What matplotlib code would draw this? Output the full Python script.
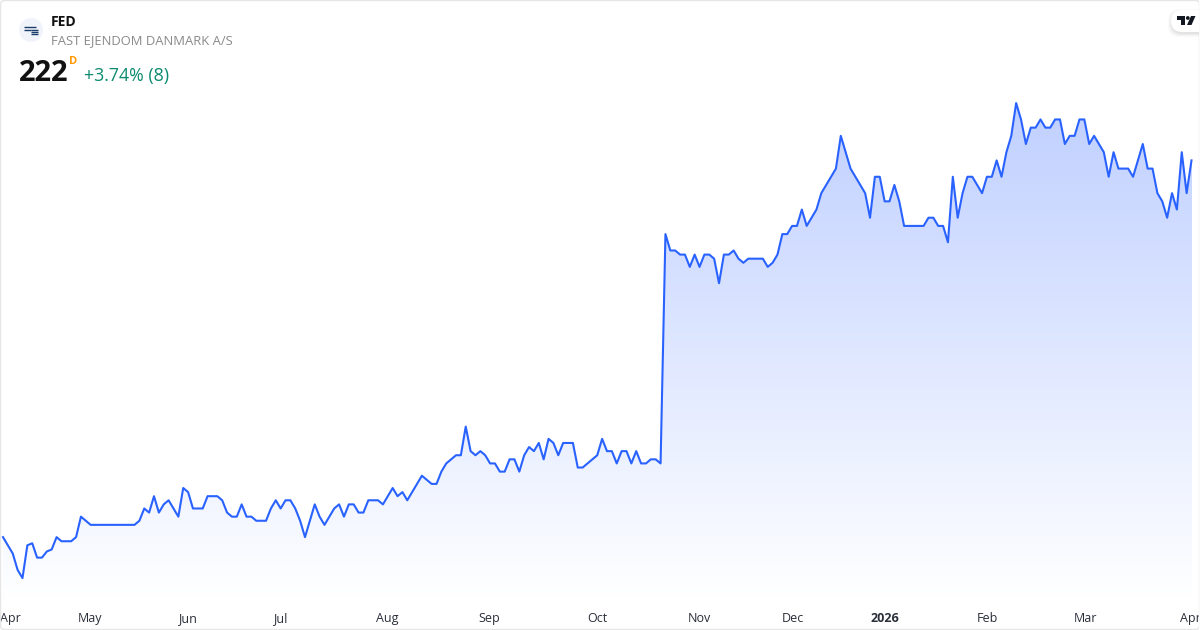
import numpy as np
import matplotlib
matplotlib.use("Agg")
import matplotlib.pyplot as plt
from matplotlib.patches import FancyBboxPatch, Circle, Polygon, Rectangle
from matplotlib.colors import LinearSegmentedColormap

plt.rcParams['font.family'] = ['Open Sans', 'DejaVu Sans']

close_early = [130,128,126,122,120,128,128.5,125,125,126.5,127,130,129,129,129,130,135,134,
               133,133,133,133,133,133,133,133,133,133,134,137,136,140,136,138,139,137,135,142,141,
               137,137,137,140,140,140,139,136,135,135,138,135,135,134,134,134,137,139,137,139,139,137,134]
close_summer = [130,134,138,135,133,135,137,138,135,138,138,136,136,139,139,139,138,140,142,140,141,139,141,
                143,145,144,143,143,146,148,149,150,150,157,151,150,151,150,148,148,146,146,149,149,146,150,
                152,151,153,149,154,153,150,153,153,153,147,147,148,149,150,154,151,151,148,151,151,148,151,
                148,148,149,149,148]
close_late = [204,200,200,199,199,196,199,196,199,199,198,192,199,199,200,198,197,198,198,198,198,196,197,199,
              204,204,206,206,210,206,208,210,214,216,218,220,228,224,220,218,216,214,208,218,218,212,212,216,
              212,206,206,206,206,206,208,208,206,206,202]
close_recent = [218,208,214,218,218,216,214,218,218,222,218,224,228,236,232,226,230,230,232,230,230,232,232,
                226,228,228,232,232,226,228,226,224,218,224,220,220,220,218,222,226,220,220,214,212,208,214,
                210,224,214,222]
month_labels = ['Apr','May','Jun','Jul','Aug','Sep','Oct','Nov','Dec','2026','Feb','Mar','Apr']
month_index = [1.6,17.8,37.8,57,78.8,99.8,122,143,162.2,181.1,202.1,222.2,243.8]

closes = np.array(close_early + close_summer + close_late + close_recent, dtype=float)
idx = np.arange(len(closes))

W, H = 1200, 630
fig = plt.figure(figsize=(12, 6.3), dpi=100, facecolor='white')
ax = fig.add_axes([0, 0, 1, 1])
px0, px1 = 3.0, 1191.5
sx = (px1 - px0) / (len(closes) - 1)
sy = 4.095
y222 = 160.4
xlim = (-px0 / sx, (W - px0) / sx)
ylim = (222 - (H - y222) / sy, 222 + y222 / sy)
ax.axis('off')

# gradient area
floor_v = 222 - (604 - y222) / sy
top_v = 222 + (y222 - 100) / sy
cmap = LinearSegmentedColormap.from_list('g', ['#ffffff', '#bfcfff'])
levels = np.linspace(floor_v, top_v, 505)
shade = np.linspace(0, 1, 504)[:, None]
mesh = ax.pcolormesh([idx[0], idx[-1]], levels, shade, cmap=cmap, vmin=0, vmax=1, shading='flat',
                     antialiased=False, edgecolors='none', zorder=1)
area = Polygon(np.vstack([[idx[0], floor_v], np.column_stack([idx, closes]), [idx[-1], floor_v]]),
               closed=True, fc='none', ec='none', transform=ax.transData)
ax.add_patch(area)
mesh.set_clip_path(area)
ax.plot(idx, closes, color='#2962ff', lw=1.5, zorder=3, solid_joinstyle='round')
ax.set_xlim(*xlim)
ax.set_ylim(*ylim)

for pos, lab in zip(month_index, month_labels):
    ax.text(pos, 222 - (622 - y222) / sy, lab, ha='center', va='baseline', fontsize=9, color='#2a2e39',
            fontweight='bold' if lab == '2026' else 'normal', zorder=5)

# overlay in pixels
ov = fig.add_axes([0, 0, 1, 1], facecolor='none')
ov.set_xlim(0, W); ov.set_ylim(H, 0); ov.axis('off')
ov.add_patch(FancyBboxPatch((0.5, 0.5), W - 1, H - 1, boxstyle='round,pad=0,rounding_size=4',
                            fc='none', ec='#e6e6e6', lw=1.0))
ov.add_patch(Circle((31, 30), 12, fc='#f0f3fa', ec='none'))
for (x0, x1, y) in [(24, 36, 27), (24, 31, 29.5), (31, 38, 29.5), (31, 38, 32), (31, 38, 34)]:
    ov.plot([x0, x1], [y, y], color='#1c3d6b', lw=1.0, solid_capstyle='butt')
ov.text(51, 22, 'FED', fontsize=10, fontweight='bold', color='#111111', va='center', ha='left')
ov.text(51, 41, 'FAST EJENDOM DANMARK A/S', fontsize=9.4, color='#8a8a8a', va='center', ha='left')
ov.text(18.5, 73.5, '222', fontsize=21, fontweight='bold', color='#111111', va='center', ha='left')
ov.text(69, 62, 'D', fontsize=8, fontweight='bold', color='#ff9800', va='center', ha='left')
ov.text(84, 76.5, '+3.74% (8)', fontsize=12.8, color='#0b8a6f', va='center', ha='left')

# TradingView badge
for i, a in enumerate([0.02, 0.025, 0.03, 0.035]):
    ov.add_patch(FancyBboxPatch((1171 - (3 - i), 10 - (3 - i) + 2), 60, 22 + 2 * (3 - i),
                                boxstyle='round,pad=0,rounding_size=11', fc='#000000', ec='none', alpha=a))
ov.add_patch(FancyBboxPatch((1171, 10), 60, 22, boxstyle='round,pad=0,rounding_size=11', fc='white', ec='none'))
ov.add_patch(Polygon([(1177, 16), (1185, 16), (1185, 25), (1181, 25), (1181, 20), (1177, 20)], fc='#131722', ec='none'))
ov.add_patch(Circle((1187.8, 18), 1.9, fc='#131722', ec='none'))
ov.add_patch(Polygon([(1191, 16), (1195.5, 16), (1191.5, 25), (1187, 25)], fc='#131722', ec='none'))
ov.add_patch(Rectangle((1199, 0), 1, H, fc='white', ec='none'))
ov.plot([1199.5, 1199.5], [4, H - 4], color='#e6e6e6', lw=1.0)

fig.savefig('out.png', dpi=100, facecolor='white')
